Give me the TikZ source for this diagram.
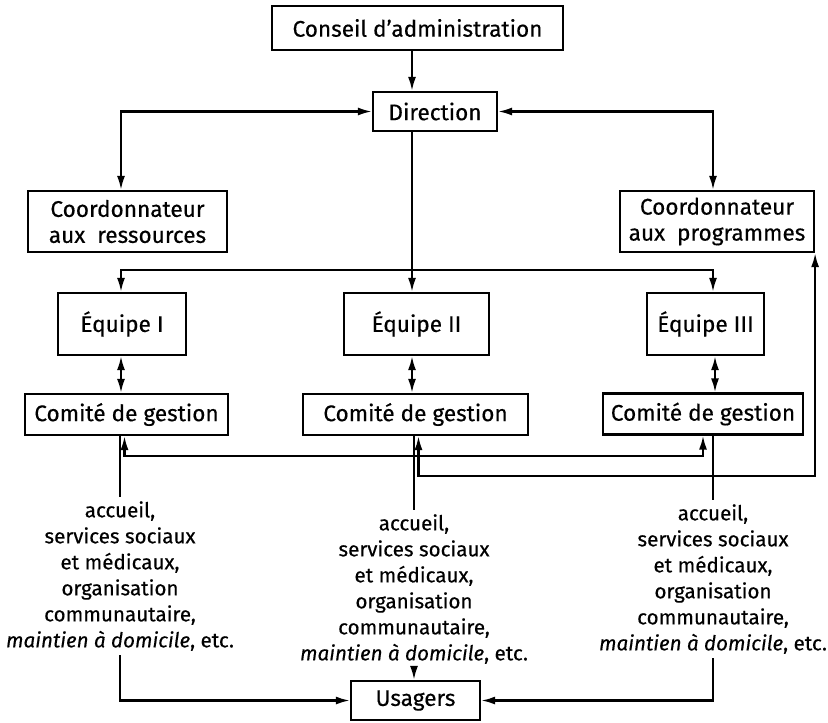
\documentclass[tikz,border=0pt]{standalone}
\usepackage{fontspec}
\setmainfont{Fira Sans}[FakeBold=0.4]
\usetikzlibrary{arrows.meta, positioning, calc}

\begin{document}
\begin{tikzpicture}[x=0.5pt, y=-0.5pt,
    box/.style={draw, line width=1.1pt, inner sep=0pt, align=center, font=\fontsize{11.3}{13}\selectfont},
    actlist/.style={inner sep=2pt, align=center, font=\fontsize{10.3}{13}\selectfont},
    link/.style={line width=1.1pt, -{Latex[length=7pt, width=4pt]}},
    dlink/.style={line width=1.1pt, {Latex[length=7pt, width=4pt]}-{Latex[length=7pt, width=4pt]}},
    plain/.style={line width=1.1pt}]
    \useasboundingbox (0,0) rectangle (828,722);

    % --- Colonnes des liaisons ---
    \coordinate (colI) at (121,0);
    \coordinate (colII) at (412,0);
    \coordinate (colIII) at (713,0);

    % --- Direction ---
    \node[box, minimum width=145.5pt, minimum height=22pt] (conseil) at (417.5,28) {Conseil d'administration};
    \node[box, minimum width=62pt, minimum height=19.5pt] (direction) at (435,111.5) {Direction};

    % Coordonnateurs
    \node[box, minimum width=99.5pt, minimum height=30.5pt] (coordr) at (127.5,221.5) {Coordonnateur\\aux\ \ ressources};
    \node[box, minimum width=97pt, minimum height=30.5pt] (coordp) at (717,221.5) {Coordonnateur\\aux\ \ programmes};

    % --- Equipes ---
    \node[box, minimum width=64pt, minimum height=31pt] (equipe1) at (122,324) {Équipe I};
    \node[box, minimum width=72.5pt, minimum height=31pt] (equipe2) at (416.5,324) {Équipe II};
    \node[box, minimum width=58.5pt, minimum height=31pt] (equipe3) at (705.5,324) {Équipe III};

    % Comites de gestion
    \node[box, minimum width=101.5pt, minimum height=20.5pt] (comite1) at (126.5,414.5) {Comité de gestion};
    \node[box, minimum width=112.5pt, minimum height=20.5pt] (comite2) at (415.5,414.5) {Comité de gestion};
    \node[box, minimum width=100pt, minimum height=20.5pt] (comite3) at (703,414) {Comité de gestion};

    % --- Activites ---
    \node[actlist] (act1) at (120,576) {accueil,\\services sociaux\\et médicaux,\\organisation\\communautaire,\\\textit{maintien à domicile}, etc.};
    \node[actlist] (act2) at (414,589) {accueil,\\services sociaux\\et médicaux,\\organisation\\communautaire,\\\textit{maintien à domicile}, etc.};
    \node[actlist] (act3) at (713,579) {accueil,\\services sociaux\\et médicaux,\\organisation\\communautaire,\\\textit{maintien à domicile}, etc.};

    \node[box, minimum width=64.5pt, minimum height=19.5pt] (usagers) at (415.5,700.5) {Usagers};

    % --- Liaisons ---
    \draw[link] (conseil.south -| colII) -- (direction.north -| colII);
    \draw[dlink] (direction.west) -| (coordr.north -| colI);
    \draw[dlink] (direction.east) -| (coordp.north -| colIII);

    \coordinate (busT) at (412,270);
    \draw[link] (direction.south -| colII) -- (equipe2.north -| colII);
    \draw[link] (busT) -| (equipe1.north -| colI);
    \draw[link] (busT) -| (equipe3.north -| colIII);

    \draw[dlink] (equipe1.south -| colI) -- (comite1.north -| colI);
    \draw[dlink] (equipe2.south -| colII) -- (comite2.north -| colII);
    \draw[dlink] ([xshift=1pt]equipe3.south -| colIII) -- ([xshift=1pt]comite3.north -| colIII);

    % Liaisons entre comites
    \coordinate (busA) at (400,456);
    \coordinate (busB) at (600,476);
    \draw[dlink] ([xshift=-1pt]comite1.south) |- (busA) -| (comite3.south);
    \draw[dlink] ([xshift=1.5pt]comite2.south) |- (busB) -| (coordp.south east);

    % Comites vers activites
    \draw[plain] (comite1.south -| act1.north) -- (act1.north);
    \draw[plain] (comite2.south -| act2.north) -- (act2.north);
    \draw[plain] (comite3.south -| act3.north) -- (act3.north);

    % Activites vers usagers
    \draw[link] (act1.south) |- (usagers.west);
    \draw[link] (act2.south) -- (usagers.north -| act2.south);
    \draw[link] (act3.south) |- (usagers.east);
\end{tikzpicture}
\end{document}
